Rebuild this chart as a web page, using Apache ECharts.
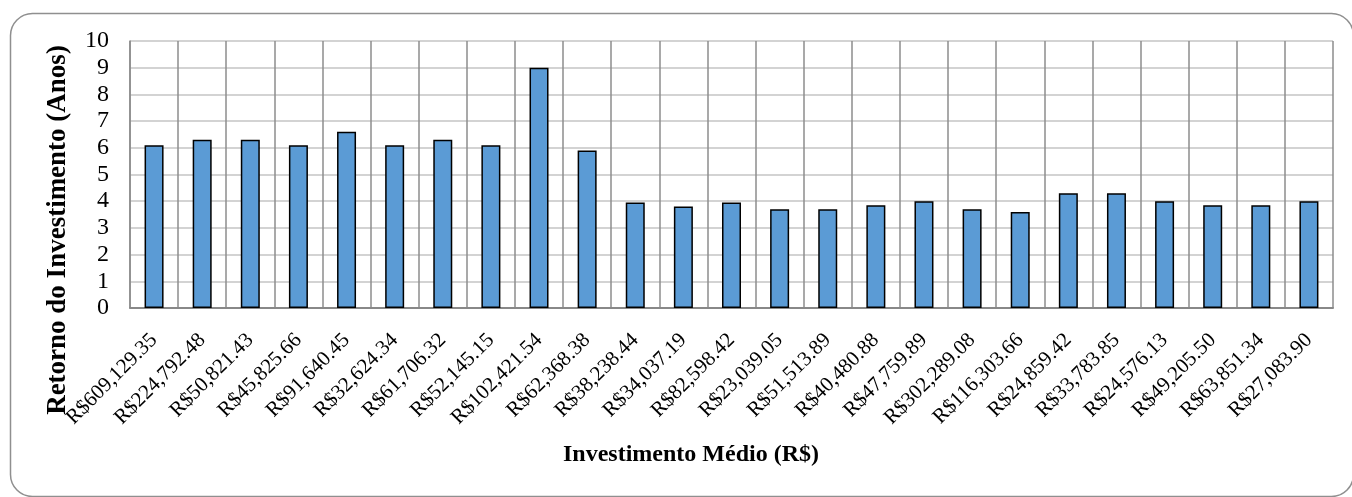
<!DOCTYPE html>
<html>
<head>
<meta charset="utf-8">
<script src="https://cdn.jsdelivr.net/npm/echarts@6/dist/echarts.min.js"></script>
<style>
html,body{margin:0;padding:0;background:#fff;}
#chart{width:1352px;height:497px;}
</style>
</head>
<body>
<div id="chart"></div>
<script>
const categories = ["R$609,129.35","R$224,792.48","R$50,821.43","R$45,825.66","R$91,640.45","R$32,624.34","R$61,706.32","R$52,145.15","R$102,421.54","R$62,368.38","R$38,238.44","R$34,037.19","R$82,598.42","R$23,039.05","R$51,513.89","R$40,480.88","R$47,759.89","R$302,289.08","R$116,303.66","R$24,859.42","R$33,783.85","R$24,576.13","R$49,205.50","R$63,851.34","R$27,083.90"];
const retorno = [6.1,6.3,6.3,6.1,6.6,6.1,6.3,6.1,9.0,5.9,3.95,3.8,3.95,3.7,3.7,3.85,4.0,3.7,3.6,4.3,4.3,4.0,3.85,3.85,4.0];
const yTitle = "Retorno do Investimento (Anos)";
const xTitle = "Investimento Médio (R$)";

const chart = echarts.init(document.getElementById('chart'), null, {renderer:'canvas'});
const serif = '"Liberation Serif", "Times New Roman", serif';
chart.setOption({
  animation:false,
  backgroundColor:'#fff',
  grid:{left:130,right:19,top:41,bottom:189,containLabel:false},
  xAxis:{
    type:'category',
    data:categories,
    boundaryGap:true,
    axisLine:{show:true,lineStyle:{color:'#888',width:2}},
    axisTick:{show:false},
    splitLine:{show:true,lineStyle:{color:'#8c8c8c',width:1.5}},
    axisLabel:{rotate:45,interval:0,margin:29,fontFamily:serif,fontSize:21,color:'#000'}
  },
  yAxis:{
    type:'value',min:0,max:10,interval:1,
    axisLine:{show:true,lineStyle:{color:'#8c8c8c',width:1.5}},
    axisTick:{show:false},
    splitLine:{show:true,lineStyle:{color:'#c4c4c4',width:1.5}},
    axisLabel:{margin:21,fontFamily:serif,fontSize:24,color:'#000'}
  },
  series:[{
    type:'bar',
    data:retorno,
    barWidth:19,
    itemStyle:{color:'#5B9BD5',borderColor:'#000',borderWidth:1.5}
  }],
  graphic:[
    {type:'rect',left:8,top:11,silent:true,z:-1,
      shape:{width:1343,height:483,r:22},
      style:{fill:'none',stroke:'#8f8f8f',lineWidth:1.5}},
    {type:'text',x:58,y:230,rotation:Math.PI/2,silent:true,
      style:{text:yTitle,font:'bold 27px '+serif,fill:'#000',align:'center',verticalAlign:'middle'}},
    {type:'text',x:691,y:455,silent:true,
      style:{text:xTitle,font:'bold 24px '+serif,fill:'#000',align:'center',verticalAlign:'middle'}}
  ]
});
</script>
</body>
</html>
